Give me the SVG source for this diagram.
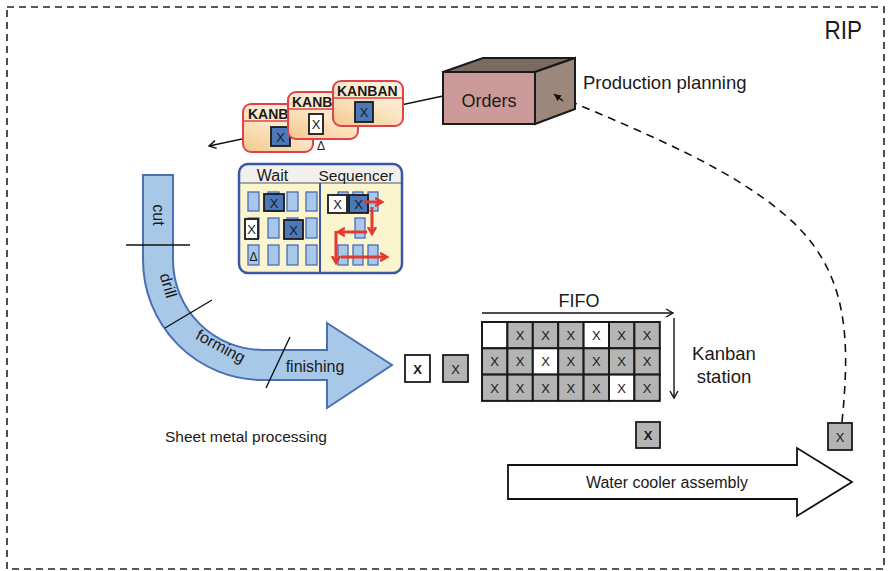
<svg xmlns="http://www.w3.org/2000/svg" width="888" height="571" viewBox="0 0 888 571">
  <defs>
    <style>
      text { font-family: "Liberation Sans", Arial, sans-serif; fill: #1a1a1a; }
      .frame { fill: none; stroke: #222; stroke-width: 1.6; stroke-dasharray: 7 5; }
      .card { fill: url(#cardFill); stroke: #e2414b; stroke-width: 2; }
      .cardHead { stroke: #e2414b; stroke-width: 1.6; }
      .cardTitle { font-size: 14px; font-weight: bold; }
      .tag { stroke: #1a1a1a; stroke-width: 1.8; }
      .tagBlue { fill: #4a78b8; }
      .tagWhite { fill: #ffffff; }
      .tagGray { fill: #b4b4b4; }
      .slot { fill: #a9c7e8; stroke: #4a6db5; stroke-width: 1.3; }
      .tx { font-size: 13px; text-anchor: middle; }
      .txb { font-size: 13px; font-weight: bold; text-anchor: middle; }
      .seq { stroke: #e23a2c; stroke-width: 3; fill: none; marker-end: url(#redHead); }
      .cell { stroke: #1a1a1a; stroke-width: 2; }
      .cutline { stroke: #111; stroke-width: 1.4; }
      .wire { stroke: #111; stroke-width: 1.4; fill: none; }
      .step { font-size: 16px; text-anchor: middle; }
    </style>
    <linearGradient id="cardFill" x1="0" y1="1" x2="0.6" y2="0">
      <stop offset="0" stop-color="#f3c88a"/>
      <stop offset="0.6" stop-color="#fbe6c6"/>
      <stop offset="1" stop-color="#fdf0dc"/>
    </linearGradient>
    <marker id="blackHead" markerWidth="10" markerHeight="10" refX="8" refY="5" orient="auto" markerUnits="userSpaceOnUse">
      <path d="M1,1 L8,5 L1,9" fill="none" stroke="#111" stroke-width="1.4"/>
    </marker>
    <marker id="smallHead" markerWidth="8" markerHeight="8" refX="7" refY="4" orient="auto" markerUnits="userSpaceOnUse">
      <path d="M0,0.5 L7,4 L0,7.5 Z" fill="#111"/>
    </marker>
    <marker id="redHead" markerWidth="10" markerHeight="10" refX="6" refY="5" orient="auto" markerUnits="userSpaceOnUse">
      <path d="M0,1 L7,5 L0,9" fill="none" stroke="#e23a2c" stroke-width="2.6"/>
    </marker>
  </defs>

  <!-- plant boundary -->
  <rect class="frame" x="7" y="7" width="877" height="562"/>
  <text x="862" y="39" font-size="25" text-anchor="end" transform="translate(862,0) scale(0.9,1) translate(-862,0)">RIP</text>

  <!-- connectors -->
  <g id="connectors">
    <!-- order release to the card stack and onward -->
    <line class="wire" x1="443" y1="96" x2="209" y2="146" marker-end="url(#blackHead)"/>
    <!-- kanban signal back to production planning -->
    <path d="M842,422 C850,340 850,270 785,215 C730,168 650,135 560,97" fill="none" stroke="#111" stroke-width="1.6" stroke-dasharray="8 6"/>
  </g>

  <!-- orders box -->
  <g id="orders">
    <polygon points="443,72 483,58 575,58 535,72" fill="#7b6a62" stroke="#1a1a1a" stroke-width="2"/>
    <polygon points="535,72 575,58 575,109 535,124" fill="#9b877c" stroke="#1a1a1a" stroke-width="2"/>
    <rect x="443" y="72" width="92" height="52" fill="#cc9a98" stroke="#1a1a1a" stroke-width="2"/>
    <text x="489" y="107" font-size="18" text-anchor="middle">Orders</text>
    <line x1="563" y1="101" x2="554" y2="94" stroke="#111" stroke-width="1.4" marker-end="url(#smallHead)"/>
  </g>
  <text x="583" y="89" font-size="18.5">Production planning</text>

  <!-- kanban cards -->
  <g id="card1">
    <rect class="card" x="243" y="104" width="70" height="48" rx="8"/>
    <line class="cardHead" x1="244" y1="121" x2="312" y2="121"/>
    <text class="cardTitle" x="248" y="119">KANBAN</text>
    <rect class="tag tagBlue" x="271" y="127" width="19" height="19"/>
    <text class="tx" x="280.5" y="141.5">X</text>
  </g>
  <g id="card2">
    <rect class="card" x="288" y="92" width="70" height="47" rx="8"/>
    <line class="cardHead" x1="289" y1="109" x2="357" y2="109"/>
    <text class="cardTitle" x="292" y="107">KANBAN</text>
    <rect class="tag tagWhite" x="309" y="114" width="14" height="20"/>
    <text class="tx" x="316" y="128.5">X</text>
    <text x="321" y="150" font-size="12" text-anchor="middle">Δ</text>
  </g>
  <g id="card3">
    <rect class="card" x="333" y="81" width="70" height="45" rx="8"/>
    <line class="cardHead" x1="334" y1="98" x2="402" y2="98"/>
    <text class="cardTitle" x="337" y="96">KANBAN</text>
    <rect class="tag tagBlue" x="355" y="102" width="18" height="20"/>
    <text class="tx" x="364" y="117">X</text>
  </g>

  <!-- wait pool and sequencer -->
  <g id="sequencer">
    <rect x="239" y="164" width="163" height="109" rx="9" fill="#faf5cf"/>
    <path d="M239,183 V173 A9,9 0 0 1 248,164 H393 A9,9 0 0 1 402,173 V183 Z" fill="#f1f0ec"/>
    <line x1="240" y1="183" x2="401" y2="183" stroke="#555" stroke-width="1"/>
    <line x1="320" y1="183" x2="320" y2="273" stroke="#3b55a8" stroke-width="2"/>
    <rect x="239" y="164" width="163" height="109" rx="9" fill="none" stroke="#3b55a8" stroke-width="2.5"/>
    <text x="272.5" y="180.5" font-size="16" text-anchor="middle">Wait</text>
    <text x="356" y="180.5" font-size="15.5" text-anchor="middle">Sequencer</text>

    <!-- waiting slots -->
    <rect class="slot" x="248" y="192" width="11" height="19"/>
    <rect class="slot" x="268" y="192" width="11" height="19"/>
    <rect class="slot" x="287" y="192" width="11" height="19"/>
    <rect class="slot" x="306" y="192" width="11" height="19"/>
    <rect class="slot" x="248" y="218" width="11" height="20"/>
    <rect class="slot" x="268" y="218" width="11" height="20"/>
    <rect class="slot" x="287" y="218" width="11" height="20"/>
    <rect class="slot" x="306" y="218" width="11" height="20"/>
    <rect class="slot" x="248" y="245" width="11" height="20"/>
    <rect class="slot" x="268" y="245" width="11" height="20"/>
    <rect class="slot" x="287" y="245" width="11" height="20"/>
    <rect class="slot" x="306" y="245" width="11" height="20"/>
    <rect class="tag tagBlue" x="264" y="194" width="20" height="17"/>
    <text class="tx" x="274" y="207.5">X</text>
    <rect class="tag tagWhite" x="245" y="219" width="13" height="20"/>
    <text class="tx" x="251.5" y="234">X</text>
    <rect class="tag tagBlue" x="284" y="220" width="19" height="19"/>
    <text class="tx" x="293.5" y="234.5">X</text>
    <text x="253.5" y="261" font-size="12" text-anchor="middle">Δ</text>

    <!-- sequencer slots -->
    <rect class="slot" x="338" y="192" width="10" height="19"/>
    <rect class="slot" x="353" y="192" width="10" height="19"/>
    <rect class="slot" x="368" y="192" width="10" height="19"/>
    <rect class="slot" x="355" y="218" width="10" height="20"/>
    <rect class="slot" x="338" y="245" width="10" height="20"/>
    <rect class="slot" x="353" y="245" width="10" height="20"/>
    <rect class="slot" x="368" y="245" width="10" height="20"/>
    <rect class="tag tagWhite" x="328" y="195" width="19" height="18"/>
    <text class="tx" x="337.5" y="209">X</text>
    <rect class="tag tagBlue" x="349" y="195" width="19" height="18"/>
    <text class="tx" x="358.5" y="209">X</text>

    <!-- sequencing moves -->
    <line class="seq" x1="364" y1="202" x2="381" y2="202"/>
    <line class="seq" x1="372" y1="207" x2="372" y2="233"/>
    <line class="seq" x1="367" y1="232" x2="339" y2="232"/>
    <line class="seq" x1="336" y1="231" x2="336" y2="262"/>
    <line class="seq" x1="341" y1="257" x2="386" y2="257"/>
  </g>

  <!-- sheet metal processing flow -->
  <g id="sheet-metal">
    <path d="M143,175 H173 V260 A90,90 0 0 0 263,350 H327 V323 L392,365 L327,408 V380 H263 A120,120 0 0 1 143,260 Z" fill="#a8c8e8" stroke="#4a6fb5" stroke-width="2"/>
    <line class="cutline" x1="126" y1="245" x2="190" y2="245"/>
    <line class="cutline" x1="165" y1="328" x2="212" y2="300"/>
    <line class="cutline" x1="290" y1="337" x2="266" y2="388"/>
    <text class="step" transform="translate(153,215) rotate(90)">cut</text>
    <text class="step" transform="translate(163,287) rotate(74)">drill</text>
    <text class="step" transform="translate(218,351) rotate(28)">forming</text>
    <text class="step" x="315" y="372">finishing</text>
  </g>
  <text x="246" y="442" font-size="15.5" text-anchor="middle">Sheet metal processing</text>

  <!-- finished parts waiting -->
  <g id="part-white">
    <rect class="tag tagWhite" x="405" y="355" width="25" height="27"/>
    <text class="txb" x="417.5" y="373.5">X</text>
  </g>
  <g id="part-gray">
    <rect class="tag tagGray" x="443" y="355" width="25" height="27"/>
    <text class="tx" x="455.5" y="373.5">X</text>
  </g>

  <!-- kanban station FIFO -->
  <g id="kanban-station">
    <line x1="482" y1="313" x2="673" y2="313" stroke="#111" stroke-width="1.4" marker-end="url(#blackHead)"/>
    <text x="579" y="307" font-size="18" text-anchor="middle">FIFO</text>
    <line x1="674" y1="318" x2="674" y2="398" stroke="#111" stroke-width="1.4" marker-end="url(#blackHead)"/>
    <g class="cell">
      <rect x="482" y="322" width="25.4" height="26.3" fill="#fff"/>
      <rect x="507.4" y="322" width="25.4" height="26.3" fill="#b4b4b4"/>
      <rect x="532.8" y="322" width="25.4" height="26.3" fill="#b4b4b4"/>
      <rect x="558.2" y="322" width="25.4" height="26.3" fill="#b4b4b4"/>
      <rect x="583.6" y="322" width="25.4" height="26.3" fill="#fff"/>
      <rect x="609" y="322" width="25.4" height="26.3" fill="#b4b4b4"/>
      <rect x="634.4" y="322" width="25.4" height="26.3" fill="#b4b4b4"/>
      <rect x="482" y="348.3" width="25.4" height="26.3" fill="#b4b4b4"/>
      <rect x="507.4" y="348.3" width="25.4" height="26.3" fill="#b4b4b4"/>
      <rect x="532.8" y="348.3" width="25.4" height="26.3" fill="#fff"/>
      <rect x="558.2" y="348.3" width="25.4" height="26.3" fill="#b4b4b4"/>
      <rect x="583.6" y="348.3" width="25.4" height="26.3" fill="#b4b4b4"/>
      <rect x="609" y="348.3" width="25.4" height="26.3" fill="#b4b4b4"/>
      <rect x="634.4" y="348.3" width="25.4" height="26.3" fill="#b4b4b4"/>
      <rect x="482" y="374.6" width="25.4" height="26.3" fill="#b4b4b4"/>
      <rect x="507.4" y="374.6" width="25.4" height="26.3" fill="#b4b4b4"/>
      <rect x="532.8" y="374.6" width="25.4" height="26.3" fill="#b4b4b4"/>
      <rect x="558.2" y="374.6" width="25.4" height="26.3" fill="#b4b4b4"/>
      <rect x="583.6" y="374.6" width="25.4" height="26.3" fill="#b4b4b4"/>
      <rect x="609" y="374.6" width="25.4" height="26.3" fill="#fff"/>
      <rect x="634.4" y="374.6" width="25.4" height="26.3" fill="#b4b4b4"/>
    </g>
    <g class="tx">
      <text x="520.1" y="340">X</text>
      <text x="545.5" y="340">X</text>
      <text x="570.9" y="340">X</text>
      <text x="596.3" y="340">X</text>
      <text x="621.7" y="340">X</text>
      <text x="647.1" y="340">X</text>
      <text x="494.7" y="366.3">X</text>
      <text x="520.1" y="366.3">X</text>
      <text x="545.5" y="366.3">X</text>
      <text x="570.9" y="366.3">X</text>
      <text x="596.3" y="366.3">X</text>
      <text x="621.7" y="366.3">X</text>
      <text x="647.1" y="366.3">X</text>
      <text x="494.7" y="392.6">X</text>
      <text x="520.1" y="392.6">X</text>
      <text x="545.5" y="392.6">X</text>
      <text x="570.9" y="392.6">X</text>
      <text x="596.3" y="392.6">X</text>
      <text x="621.7" y="392.6">X</text>
      <text x="647.1" y="392.6">X</text>
    </g>
  </g>
  <text x="724" y="360" font-size="18.5" text-anchor="middle">Kanban</text>
  <text x="724" y="383" font-size="18.5" text-anchor="middle">station</text>

  <!-- part pulled from the station -->
  <g id="part-pulled">
    <rect class="tag tagGray" x="636" y="422" width="24" height="26"/>
    <text class="txb" x="648" y="440">X</text>
  </g>

  <!-- card returned to planning -->
  <g id="part-signal">
    <rect class="tag tagGray" x="828" y="423" width="24" height="27"/>
    <text class="tx" x="840" y="441.5">X</text>
  </g>

  <!-- assembly flow -->
  <g id="assembly">
    <path d="M508,465 H797 V448 L852,482 L797,516 V499 H508 Z" fill="#fff" stroke="#111" stroke-width="1.8"/>
    <text x="667" y="488" font-size="16" text-anchor="middle">Water cooler assembly</text>
  </g>
</svg>
